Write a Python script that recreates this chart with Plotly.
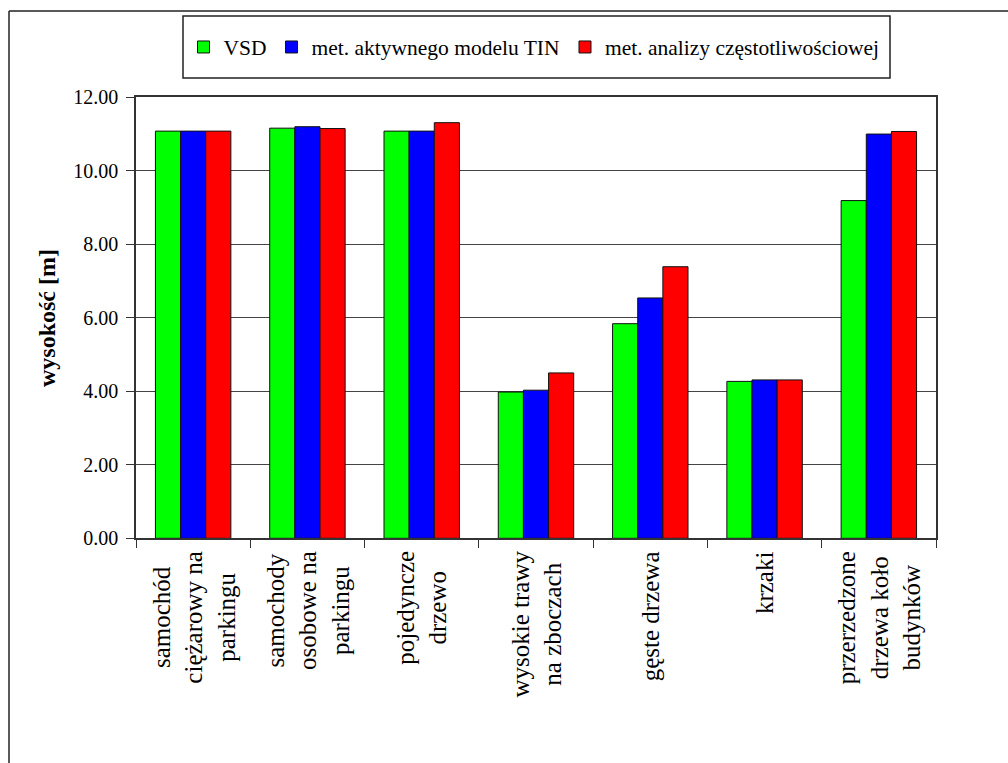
import plotly.graph_objects as go

# ---- data ----
categories = [
    "samochód<br>ciężarowy na<br>parkingu",
    "samochody<br>osobowe na<br>parkingu",
    "pojedyncze<br>drzewo",
    "wysokie trawy<br>na zboczach",
    "gęste drzewa",
    "krzaki",
    "przerzedzone<br>drzewa koło<br>budynków",
]
series_names = ["VSD", "met. aktywnego modelu TIN", "met. analizy częstotliwościowej"]
vsd = [11.08, 11.16, 11.08, 3.98, 5.84, 4.27, 9.19]
tin = [11.08, 11.20, 11.08, 4.03, 6.54, 4.31, 11.00]
freq = [11.08, 11.15, 11.31, 4.50, 7.39, 4.31, 11.07]
colors = ["#00FF00", "#0000FF", "#FF0000"]
y_ticks = [0, 2, 4, 6, 8, 10, 12]

W, H = 1008, 763
def px_x(v):
    return v / W
def px_y(v):
    return 1 - v / H

SERIF = "Liberation Serif"

fig = go.Figure()
for name, vals, col in zip(series_names, [vsd, tin, freq], colors):
    fig.add_trace(go.Bar(
        name=name, x=categories, y=vals,
        marker=dict(color=col, line=dict(color="#111111", width=1)),
    ))

annotations = []
for c in categories:
    annotations.append(dict(
        x=c, xref="x", y=px_y(549), yref="paper",
        text=c, showarrow=False, textangle=-90,
        xanchor="center", yanchor="top", align="center",
        font=dict(family=SERIF, size=25, color="black"),
    ))
annotations.append(dict(
    x=px_x(47), xref="paper", y=px_y(318), yref="paper",
    text="<b>wysokość [m]</b>", showarrow=False, textangle=-90,
    xanchor="center", yanchor="middle",
    font=dict(family=SERIF, size=24, color="black"),
))

shapes = [
    dict(type="line", xref="paper", yref="paper", x0=px_x(9), x1=1.0, y0=px_y(11), y1=px_y(11),
         line=dict(color="#222222", width=1.5)),
    dict(type="line", xref="paper", yref="paper", x0=px_x(9), x1=px_x(9), y0=0, y1=px_y(11),
         line=dict(color="#222222", width=1.5)),
    dict(type="rect", xref="paper", yref="paper", x0=px_x(183), x1=px_x(890), y0=px_y(78), y1=px_y(16),
         line=dict(color="#222222", width=1.5)),
]

fig.update_layout(
    template="none",
    width=W, height=H,
    margin=dict(l=0, r=0, t=0, b=0, pad=0),
    paper_bgcolor="white", plot_bgcolor="white",
    font=dict(family=SERIF, color="black"),
    barmode="group", bargap=0.34, bargroupgap=0,
    showlegend=True,
    legend=dict(
        orientation="h", x=px_x(534), xanchor="center", y=px_y(47), yanchor="middle",
        font=dict(family=SERIF, size=21.5, color="black"),
        bgcolor="rgba(0,0,0,0)", borderwidth=0, traceorder="normal",
    ),
    xaxis=dict(
        domain=[px_x(136), px_x(936)],
        showticklabels=False, ticks="outside", ticklen=8, tickcolor="#333333",
        tickson="boundaries", showline=True, linecolor="#333333", linewidth=1.5,
        mirror=True, showgrid=False, zeroline=False, automargin=False,
    ),
    yaxis=dict(
        domain=[px_y(538.3), px_y(97.3)],
        range=[0, 12], tickvals=y_ticks, tickformat=".2f",
        ticks="outside", ticklen=8, tickcolor="#333333",
        showline=True, linecolor="#333333", linewidth=1.5, mirror=True,
        showgrid=True, gridcolor="#444444", gridwidth=1.3, zeroline=False,
        tickfont=dict(family=SERIF, size=20, color="black"),
        automargin=False, ticklabelstandoff=4,
    ),
    annotations=annotations,
    shapes=shapes,
)

fig.write_html(
    "out.html",
    config={"displayModeBar": False},
    post_script="document.body.style.margin='0px';document.body.style.overflow='hidden';",
)
